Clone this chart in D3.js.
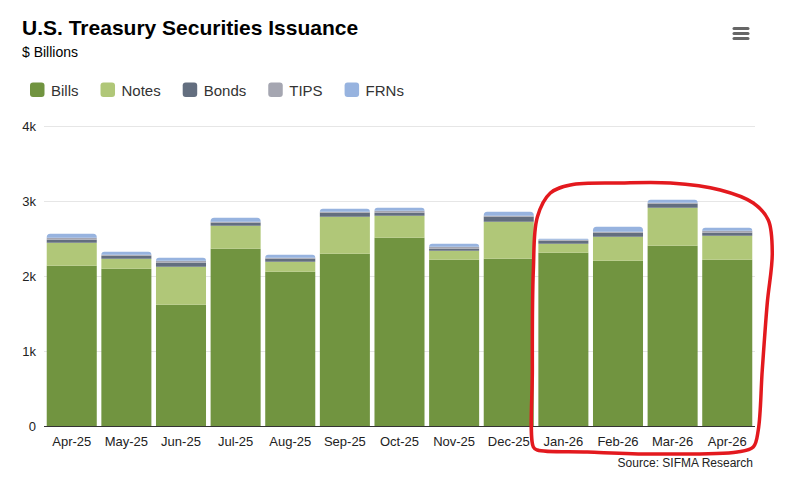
<!DOCTYPE html>
<html>
<head>
<meta charset="utf-8">
<script src="https://cdn.jsdelivr.net/npm/d3@7"></script>
<style>
  body { margin: 0; background: #fff; }
  svg { font-family: "Liberation Sans", Arial, sans-serif; display: block; }
</style>
</head>
<body>
<div id="chart"></div>
<script>
// month categories
var months = ["Apr-25", "May-25", "Jun-25", "Jul-25", "Aug-25", "Sep-25", "Oct-25",
              "Nov-25", "Dec-25", "Jan-26", "Feb-26", "Mar-26", "Apr-26"];

// issuance, $ billions
var bills = [2137, 2097, 1617, 2364, 2057, 2297, 2511, 2217, 2231, 2311, 2204, 2404, 2217];
var notes = [307, 133, 507, 307, 133, 493, 293, 120, 493, 120, 320, 507, 320];
var bonds = [40, 40, 53, 40, 40, 53, 40, 27, 67, 40, 53, 53, 40];
var tips  = [27, 13, 27, 13, 13, 13, 27, 27, 13, 13, 13, 13, 27];
var frns  = [53, 40, 40, 53, 40, 40, 40, 40, 53, 13, 67, 40, 40];

var yTicks = [0, 1000, 2000, 3000, 4000];

var seriesNames = ["Bills", "Notes", "Bonds", "TIPS", "FRNs"];
var seriesValues = [bills, notes, bonds, tips, frns];
var colors = ["#719440", "#b0c778", "#636e7f", "#a5a6b1", "#97b3df"];

var width = 790, height = 487;
var plotLeft = 44, plotRight = 755, plotTop = 126, plotBottom = 426;

var svg = d3.select("#chart").append("svg")
    .attr("width", width)
    .attr("height", height);

svg.append("rect").attr("width", width).attr("height", height).attr("fill", "#fff");

// title block
svg.append("text").attr("x", 22).attr("y", 35)
    .attr("font-size", 21).attr("font-weight", "bold").attr("fill", "#000")
    .text("U.S. Treasury Securities Issuance");
svg.append("text").attr("x", 22).attr("y", 57)
    .attr("font-size", 14).attr("fill", "#000")
    .text("$ Billions");

// menu icon
var menu = svg.append("g").attr("stroke", "#666").attr("stroke-width", 3).attr("stroke-linecap", "round");
[28.5, 33.5, 38.5].forEach(function(yy){
    menu.append("line").attr("x1", 734).attr("x2", 748).attr("y1", yy).attr("y2", yy);
});

// legend
var legend = svg.append("g");
var lx = 30;
seriesNames.forEach(function(name, i){
    legend.append("rect")
        .attr("x", lx).attr("y", 82.5).attr("width", 14.5).attr("height", 14.5)
        .attr("rx", 3).attr("fill", colors[i]);
    var t = legend.append("text")
        .attr("x", lx + 21).attr("y", 95.5)
        .attr("font-size", 15).attr("fill", "#333")
        .text(name);
    lx += 21 + t.node().getComputedTextLength() + 22;
});

var x = d3.scaleBand()
    .domain(months)
    .range([plotLeft, plotRight])
    .paddingInner(0.084)
    .paddingOuter(0.05);

var y = d3.scaleLinear()
    .domain([0, 4000])
    .range([plotBottom, plotTop]);

// gridlines
svg.append("g")
    .attr("transform", "translate(" + plotLeft + ",0)")
    .call(d3.axisLeft(y).tickValues(yTicks).tickSize(-(plotRight - plotLeft)).tickFormat(""))
    .call(function(g){
        g.select(".domain").remove();
        g.selectAll("line").attr("stroke", "#e6e6e6");
    });

// y labels
svg.append("g")
    .attr("transform", "translate(" + plotLeft + ",0)")
    .call(d3.axisLeft(y).tickValues(yTicks).tickSize(0).tickPadding(8)
        .tickFormat(function(d){ return d === 0 ? "0" : (d / 1000) + "k"; }))
    .call(function(g){
        g.select(".domain").remove();
        g.selectAll("text").attr("font-size", 13).attr("fill", "#222")
            .attr("font-family", "Liberation Sans, Arial, sans-serif");
    });

// stacked data
var rows = months.map(function(m, i){
    var r = { month: m };
    seriesNames.forEach(function(s, k){ r[s] = seriesValues[k][i]; });
    return r;
});
var stack = d3.stack().keys(seriesNames)(rows);

// path for a rect with rounded top corners
function topRounded(x0, y0, w, h, r){
    r = Math.min(r, h, w / 2);
    return "M" + x0 + "," + (y0 + h) +
        "V" + (y0 + r) +
        "Q" + x0 + "," + y0 + " " + (x0 + r) + "," + y0 +
        "H" + (x0 + w - r) +
        "Q" + (x0 + w) + "," + y0 + " " + (x0 + w) + "," + (y0 + r) +
        "V" + (y0 + h) + "Z";
}

var bars = svg.append("g");
stack.forEach(function(layer, k){
    var last = k === stack.length - 1;
    bars.append("g").attr("fill", colors[k])
        .selectAll("path").data(layer).enter().append("path")
        .attr("d", function(d){
            var x0 = x(d.data.month), w = x.bandwidth();
            var y0 = y(d[1]), h = y(d[0]) - y(d[1]);
            if (last) return topRounded(x0, y0, w, h, 3.5);
            return "M" + x0 + "," + y0 + "h" + w + "v" + h + "h" + (-w) + "Z";
        });
});

// x axis
svg.append("g")
    .attr("transform", "translate(0," + plotBottom + ")")
    .call(d3.axisBottom(x).tickSize(0).tickPadding(11))
    .call(function(g){
        g.select(".domain").attr("stroke", "#333").attr("d", "M" + plotLeft + ",0.5H" + plotRight);
        g.selectAll("text").attr("font-size", 13).attr("fill", "#222")
            .attr("font-family", "Liberation Sans, Arial, sans-serif");
    });

// credit
svg.append("text").attr("x", 753).attr("y", 467)
    .attr("text-anchor", "end").attr("font-size", 12).attr("fill", "#222")
    .text("Source: SIFMA Research");

// hand-drawn highlight around the 2026 months
var L = x("Jan-26") - 5,
    R = x("Apr-26") + x.bandwidth() + 20,
    T = y(3000) - 18,
    B = y(0) + 26;
var loop = [
    [L + 4, T + 34], [L + 17, T + 10], [L + 37, T + 2], [L + 87, T], [L + 137, T],
    [R - 52, T + 7], [R - 19, T + 20], [R - 4, T + 37], [R, T + 70], [R - 5, T + 120],
    [R - 10, T + 187], [R - 14, B - 22], [R - 19, B - 5], [R - 35, B], [L + 120, B + 2],
    [L + 54, B], [L + 4, B - 2], [L, B - 5], [L - 1, B - 82], [L, T + 87]
];
svg.append("path")
    .attr("d", d3.line().curve(d3.curveCatmullRomClosed)(loop))
    .attr("fill", "none")
    .attr("stroke", "#e3191e")
    .attr("stroke-width", 3.5)
    .attr("stroke-linejoin", "round");
</script>
</body>
</html>
